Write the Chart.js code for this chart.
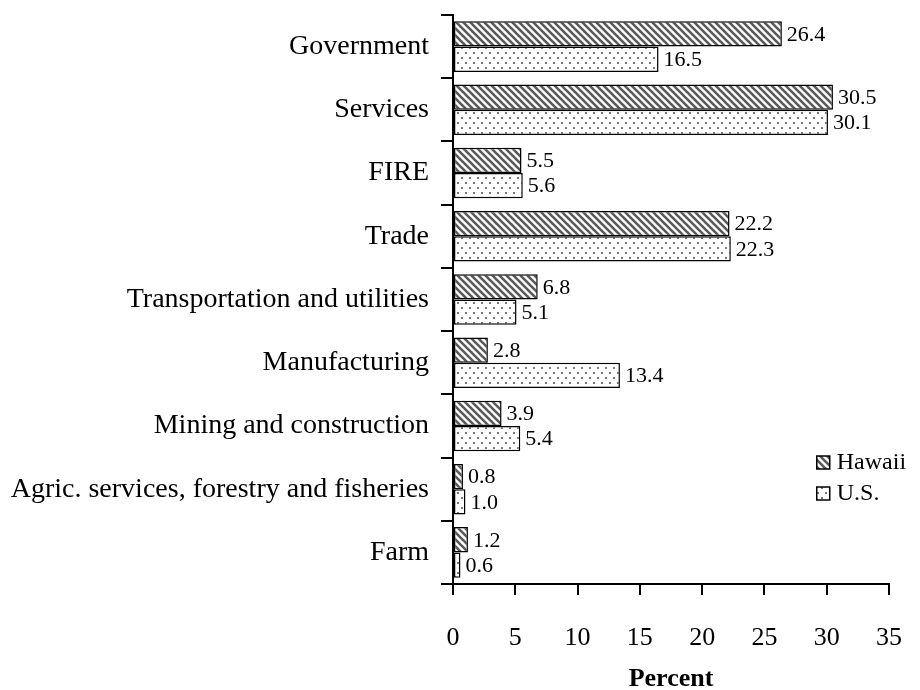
<!DOCTYPE html>
<html>
<head>
<meta charset="utf-8">
<script src="https://cdn.jsdelivr.net/npm/chart.js@4/dist/chart.umd.min.js"></script>
<style>
  html, body { margin: 0; padding: 0; background: #fff; }
  #wrap { width: 920px; height: 690px; }
</style>
</head>
<body>
<div id="wrap"><canvas id="c" width="920" height="690"></canvas></div>
<script>
// Earnings by industry, Hawaii vs U.S. (percent)
const categories = ['Government', 'Services', 'FIRE', 'Trade', 'Transportation and utilities',
    'Manufacturing', 'Mining and construction', 'Agric. services, forestry and fisheries', 'Farm'];
const hawaii = [26.4, 30.5, 5.5, 22.2, 6.8, 2.8, 3.9, 0.8, 1.2];
const us     = [16.5, 30.1, 5.6, 22.3, 5.1, 13.4, 5.4, 1.0, 0.6];
const seriesNames = ['Hawaii', 'U.S.'];
const xTicks = [0, 5, 10, 15, 20, 25, 30, 35];

const FONT = '"Liberation Serif", "Times New Roman", serif';

function stripePattern() {
    const s = 7;
    const t = document.createElement('canvas');
    t.width = s; t.height = s;
    const g = t.getContext('2d');
    g.fillStyle = '#fff';
    g.fillRect(0, 0, s, s);
    g.strokeStyle = '#5a5a5a';
    g.lineWidth = 2.6;
    g.beginPath();
    g.moveTo(-2, -2); g.lineTo(s + 2, s + 2);
    g.moveTo(-2, s - 2); g.lineTo(2, s + 2);
    g.moveTo(s - 2, -2); g.lineTo(s + 2, 2);
    g.stroke();
    return g.createPattern(t, 'repeat');
}

function dotPattern() {
    const t = document.createElement('canvas');
    t.width = 8; t.height = 10;
    const g = t.getContext('2d');
    g.fillStyle = '#fff';
    g.fillRect(0, 0, 8, 10);
    g.fillStyle = '#7a7a7a';
    g.fillRect(1, 2, 2, 2);
    g.fillRect(5, 7, 2, 2);
    return g.createPattern(t, 'repeat');
}

// value labels at the end of each bar
const valueLabels = {
    id: 'valueLabels',
    afterDatasetsDraw(chart) {
        const ctx = chart.ctx;
        ctx.save();
        ctx.font = '22px ' + FONT;
        ctx.fillStyle = '#000';
        ctx.textBaseline = 'middle';
        ctx.textAlign = 'left';
        chart.data.datasets.forEach((ds, i) => {
            chart.getDatasetMeta(i).data.forEach((bar, j) => {
                ctx.fillText(ds.data[j].toFixed(1), bar.x + 5, bar.y + 1);
            });
        });
        ctx.restore();
    }
};

// small boxed legend inside the plot, lower right
const boxLegend = {
    id: 'boxLegend',
    afterDraw(chart) {
        const ctx = chart.ctx;
        const x = chart.scales.x.getPixelForValue(29.2);
        const rows = [462, 493];
        ctx.save();
        ctx.font = '24px ' + FONT;
        ctx.textBaseline = 'middle';
        chart.data.datasets.forEach((ds, i) => {
            const y = rows[i];
            ctx.fillStyle = ds.backgroundColor;
            ctx.fillRect(x, y - 6, 13, 13);
            ctx.strokeStyle = '#000';
            ctx.lineWidth = 1.5;
            ctx.strokeRect(x, y - 6, 13, 13);
            ctx.fillStyle = '#000';
            ctx.fillText(ds.label, x + 20, y + 1);
        });
        ctx.restore();
    }
};

new Chart(document.getElementById('c'), {
    type: 'bar',
    data: {
        labels: categories,
        datasets: [
            { label: seriesNames[0], data: hawaii, backgroundColor: stripePattern(),
              borderColor: '#000', borderWidth: 1.5, borderSkipped: false },
            { label: seriesNames[1], data: us, backgroundColor: dotPattern(),
              borderColor: '#000', borderWidth: 1.5, borderSkipped: false }
        ]
    },
    options: {
        indexAxis: 'y',
        responsive: false,
        animation: false,
        layout: { padding: { top: 15, right: 31, left: 9, bottom: 0 } },
        datasets: { bar: { categoryPercentage: 0.8, barPercentage: 1.0 } },
        plugins: {
            legend: { display: false },
            tooltip: { enabled: false }
        },
        scales: {
            x: {
                min: 0, max: 35,
                afterBuildTicks: axis => { axis.ticks = xTicks.map(v => ({ value: v })); },
                afterFit: axis => { axis.paddingLeft = 0; axis.paddingRight = 0; },
                border: { color: '#000', width: 2 },
                grid: { drawOnChartArea: false, color: '#000', lineWidth: 2, tickLength: 11 },
                ticks: { color: '#000', font: { family: FONT, size: 26, lineHeight: 1 }, padding: 30 },
                title: { display: true, text: 'Percent', color: '#000',
                         font: { family: FONT, size: 26, weight: 'bold', lineHeight: 1 },
                         padding: { top: -15, bottom: -2 } }
            },
            y: {
                afterFit: axis => { axis.paddingTop = 0; axis.paddingBottom = 0; axis.width = 444; },
                border: { color: '#000', width: 2 },
                grid: { drawOnChartArea: false, color: '#000', lineWidth: 2, tickLength: 12, offset: true },
                ticks: { color: '#000', font: { family: FONT, size: 28 }, padding: 12 }
            }
        }
    },
    plugins: [valueLabels, boxLegend]
});
</script>
</body>
</html>
